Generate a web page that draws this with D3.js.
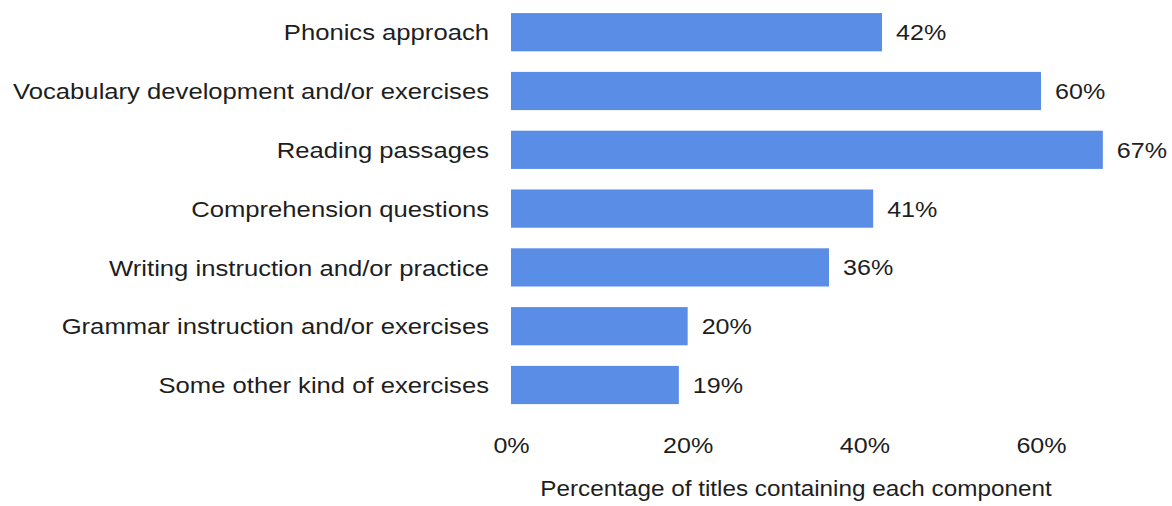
<!DOCTYPE html>
<html>
<head>
<meta charset="utf-8">
<script src="https://cdn.jsdelivr.net/npm/d3@7"></script>
<style>
  html, body { margin: 0; padding: 0; background: #fff; }
  svg { display: block; }
  text { font-family: "Liberation Sans", Arial, sans-serif; fill: #1e1e1e; }
</style>
</head>
<body>
<svg id="chart" width="1172" height="506"></svg>
<script>
// Components found in the titles and the share of titles with each one
const categories = [
  "Phonics approach",
  "Vocabulary development and/or exercises",
  "Reading passages",
  "Comprehension questions",
  "Writing instruction and/or practice",
  "Grammar instruction and/or exercises",
  "Some other kind of exercises"
];
const values = [42, 60, 67, 41, 36, 20, 19];
const tickValues = [0, 20, 40, 60];
const axisTitle = "Percentage of titles containing each component";

// the typeface is set slightly wide
const stretch = "scale(1.14,1)";

const svg = d3.select("#chart");
const margin = { left: 511, top: 13 };

const x = d3.scaleLinear().domain([0, 60]).range([margin.left, 1041]);
const y = d3.scaleBand()
  .domain(categories)
  .range([margin.top - 10.2, margin.top - 10.2 + 58.8 * categories.length])
  .paddingInner(0.35)
  .paddingOuter(0.175);

const rows = categories.map((c, i) => ({ c, v: values[i] }));

// bars
svg.append("g").selectAll("rect")
  .data(rows)
  .join("rect")
  .attr("x", x(0))
  .attr("y", d => y(d.c))
  .attr("width", d => x(d.v) - x(0))
  .attr("height", y.bandwidth())
  .attr("fill", "#5a8de6");

// value labels
svg.append("g").selectAll("text")
  .data(rows)
  .join("text")
  .attr("transform", d => `translate(${x(d.v) + 14},${y(d.c) + y.bandwidth() / 2}) ${stretch}`)
  .attr("dy", "0.36em")
  .attr("font-size", 22)
  .text(d => d.v + "%");

// category axis (no line, no ticks)
const yAxis = svg.append("g")
  .attr("transform", `translate(${x(0) - 22},0)`)
  .call(d3.axisLeft(y).tickSize(0).tickPadding(0));
yAxis.select(".domain").remove();
yAxis.selectAll("text")
  .attr("x", 0)
  .attr("transform", stretch)
  .attr("font-size", 22.5)
  .attr("font-family", "Liberation Sans, Arial, sans-serif")
  .attr("fill", "#1e1e1e")
  .attr("dy", "0.36em");

// percentage axis (no line, no ticks)
const xAxis = svg.append("g")
  .attr("transform", "translate(0,445)")
  .call(d3.axisBottom(x).tickValues(tickValues).tickFormat(d => d + "%").tickSize(0).tickPadding(0));
xAxis.select(".domain").remove();
xAxis.selectAll("text")
  .attr("y", 0)
  .attr("transform", stretch)
  .attr("font-size", 22)
  .attr("font-family", "Liberation Sans, Arial, sans-serif")
  .attr("fill", "#1e1e1e")
  .attr("dy", "0.36em");

svg.append("text")
  .attr("transform", `translate(796,488.5) ${stretch}`)
  .attr("dy", "0.36em")
  .attr("text-anchor", "middle")
  .attr("font-size", 21.3)
  .text(axisTitle);
</script>
</body>
</html>
